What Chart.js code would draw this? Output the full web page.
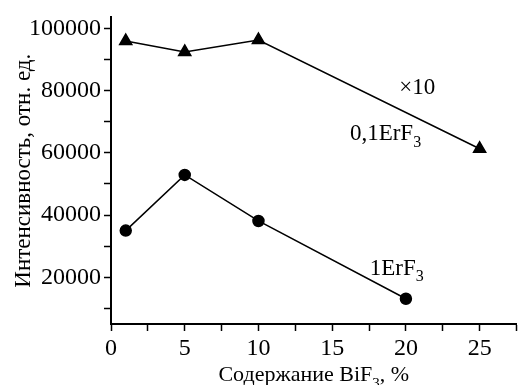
<!DOCTYPE html>
<html lang="ru">
<head>
    <meta charset="UTF-8">
    <title>Интенсивность от содержания BiF3</title>
    <script src="https://cdn.jsdelivr.net/npm/chart.js"></script>
    <style>
        html, body { margin: 0; padding: 0; background: #fff; }
        #wrap { width: 525px; height: 385px; }
    </style>
</head>
<body>
<div id="wrap"><canvas id="intensityChart" width="525" height="385"></canvas></div>
<script>
// Данные
const triX = [1, 5, 10, 25];
const triY = [95900, 92400, 96200, 61300];   // 0,1ErF3 (x10)
const circX = [1, 5, 10, 20];
const circY = [35000, 52900, 38100, 13100];  // 1ErF3

const xTicks = [0, 2.5, 5, 7.5, 10, 12.5, 15, 17.5, 20, 22.5, 25, 27.5];
const yTicks = [10000, 20000, 30000, 40000, 50000, 60000, 70000, 80000, 90000, 100000];

const xTitle = [{ t: 'Содержание BiF' }, { t: '3', sub: true }, { t: ', %' }];
const yTitle = 'Интенсивность, отн. ед.';

// подписи кривых (в координатах данных)
const notes = [
    { x: 19.55, y: 78900, parts: [{ t: '×10' }] },
    { x: 16.2, y: 64100, parts: [{ t: '0,1ErF' }, { t: '3', sub: true }] },
    { x: 17.55, y: 20900, parts: [{ t: '1ErF' }, { t: '3', sub: true }] }
];

const FONT = '"Liberation Serif", "Times New Roman", serif';

function toPoints(xs, ys) {
    return xs.map((x, i) => ({ x: x, y: ys[i] }));
}

// текст с нижним индексом
function drawParts(ctx, x, y, parts, size, align) {
    let total = 0;
    parts.forEach(p => {
        ctx.font = (p.sub ? Math.round(size * 0.68) : size) + 'px ' + FONT;
        p.w = ctx.measureText(p.t).width;
        total += p.w;
    });
    let cx = align === 'center' ? x - total / 2 : x;
    parts.forEach(p => {
        ctx.font = (p.sub ? Math.round(size * 0.68) : size) + 'px ' + FONT;
        ctx.fillText(p.t, cx, p.sub ? y + size * 0.3 : y);
        cx += p.w;
    });
}

const labelsPlugin = {
    id: 'labelsPlugin',
    afterDraw(chart) {
        const ctx = chart.ctx;
        const xs = chart.scales.x;
        const ys = chart.scales.y;
        const area = chart.chartArea;
        ctx.save();
        ctx.fillStyle = '#000';
        ctx.textAlign = 'left';
        ctx.textBaseline = 'alphabetic';

        notes.forEach(n => {
            drawParts(ctx, xs.getPixelForValue(n.x), ys.getPixelForValue(n.y), n.parts, 23, 'left');
        });

        // подпись оси X
        drawParts(ctx, (area.left + area.right) / 2, 381, xTitle, 22, 'center');

        // подпись оси Y
        ctx.translate(30, (area.top + area.bottom) / 2);
        ctx.rotate(-Math.PI / 2);
        ctx.font = '23px ' + FONT;
        ctx.textAlign = 'center';
        ctx.fillText(yTitle, 0, 0);
        ctx.restore();
    }
};

new Chart(document.getElementById('intensityChart'), {
    type: 'scatter',
    data: {
        datasets: [
            {
                data: toPoints(triX, triY),
                showLine: true,
                borderColor: '#000',
                backgroundColor: '#000',
                borderWidth: 1.5,
                pointStyle: 'triangle',
                pointRadius: 7,
                pointHoverRadius: 7
            },
            {
                data: toPoints(circX, circY),
                showLine: true,
                borderColor: '#000',
                backgroundColor: '#000',
                borderWidth: 1.5,
                pointStyle: 'circle',
                pointRadius: 5.5,
                pointHoverRadius: 5.5
            }
        ]
    },
    options: {
        responsive: false,
        animation: false,
        layout: { padding: { top: 12, right: 0, bottom: 0, left: 0 } },
        plugins: {
            legend: { display: false },
            tooltip: { enabled: false }
        },
        scales: {
            x: {
                type: 'linear',
                min: 0,
                max: 27.5,
                afterBuildTicks: s => { s.ticks = xTicks.map(v => ({ value: v })); },
                afterFit: s => { s.height = 61; },
                border: { color: '#000', width: 2 },
                grid: { drawOnChartArea: false, color: '#000', tickLength: 7, tickWidth: 1.5 },
                ticks: {
                    color: '#000',
                    padding: 3,
                    maxRotation: 0,
                    autoSkip: false,
                    font: { family: FONT, size: 24 },
                    callback: v => (v % 5 === 0 ? String(v) : '')
                }
            },
            y: {
                min: 5000,
                max: 103500,
                afterBuildTicks: s => { s.ticks = yTicks.map(v => ({ value: v })); },
                afterFit: s => { s.width = 111; },
                border: { color: '#000', width: 2 },
                grid: { drawOnChartArea: false, color: '#000', tickLength: 7, tickWidth: 1.5 },
                ticks: {
                    color: '#000',
                    padding: 3,
                    autoSkip: false,
                    font: { family: FONT, size: 24 },
                    callback: v => (v % 20000 === 0 ? String(v) : '')
                }
            }
        }
    },
    plugins: [labelsPlugin]
});
</script>
</body>
</html>
